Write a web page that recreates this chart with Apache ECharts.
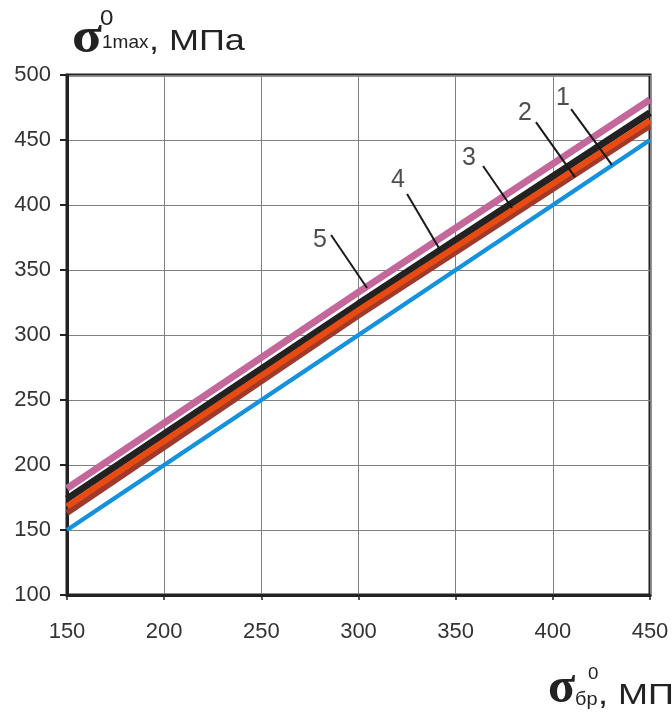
<!DOCTYPE html>
<html>
<head>
<meta charset="utf-8">
<script src="https://cdn.jsdelivr.net/npm/echarts@6/dist/echarts.min.js"></script>
<style>
  html, body { margin: 0; padding: 0; background: #fff; }
  #chart { width: 672px; height: 722px; }
</style>
</head>
<body>
<div id="chart"></div>
<script>
// σ_бр values (x) at which each curve is given
const xValues = [150, 300, 450];

// σ_1max values for curves 1..5
const curve1 = [150, 300, 450];
const curve2 = [163, 315, 461];
const curve3 = [168, 319, 465];
const curve4 = [174, 324, 471];
const curve5 = [182, 333, 481];

// Axis ticks
const xTicks = [150, 200, 250, 300, 350, 400, 450];
const yTicks = [100, 150, 200, 250, 300, 350, 400, 450, 500];

// Curve labels: text, anchor of the number, leader start, leader end (data units)
const curveTags = ['1', '2', '3', '4', '5'];
const tagAnchors = [[405.2, 482.3], [385.7, 470.8], [356.9, 436.2], [320.3, 419.2], [280.2, 373.1]];
const leaderStarts = [[409.4, 473.8], [391.3, 463.8], [364.1, 430.0], [325.0, 408.5], [285.9, 376.9]];
const leaderEnds = [[430.4, 430.8], [411.4, 421.5], [379.0, 397.7], [342.0, 365.4], [304.4, 336.2]];

const pairs = ys => xValues.map((x, i) => [x, ys[i]]);
const font = 'Liberation Sans, Arial, sans-serif';
const serif = 'Liberation Serif, DejaVu Serif, serif';
const ink = '#222';

const lineSeries = (data, color, width, z) => ({
  type: 'line', data: pairs(data), showSymbol: false, symbol: 'none',
  lineStyle: { color, width, cap: 'butt' }, z, silent: true, clip: true
});

// a piece of an axis title, placed by its left-middle point
const titlePart = (text, x, y, size, opts = {}) => ({
  type: 'text', x, y, z: 10, scaleX: opts.sx || 1, silent: true,
  style: {
    text, x: 0, y: 0, align: 'left', verticalAlign: 'middle',
    fontSize: size, fontFamily: opts.family || font,
    fontWeight: opts.bold ? 'bold' : 'normal', fill: ink
  }
});

const chart = echarts.init(document.getElementById('chart'));
chart.setOption({
  animation: false,
  backgroundColor: '#fff',
  grid: {
    left: 67, top: 75, right: 22, bottom: 127,
    show: true, borderColor: ink, borderWidth: 3
  },
  xAxis: {
    type: 'value', min: xTicks[0], max: xTicks[xTicks.length - 1], interval: 50,
    axisLine: { show: true, lineStyle: { color: ink, width: 3 } },
    axisTick: { show: true, inside: false, length: 5, lineStyle: { color: ink, width: 1.5 } },
    splitLine: { show: true, lineStyle: { color: '#808080', width: 1 } },
    axisLabel: { color: '#333', fontSize: 22, fontFamily: font, margin: 26 }
  },
  yAxis: {
    type: 'value', min: yTicks[0], max: yTicks[yTicks.length - 1], interval: 50,
    axisLine: { show: true, lineStyle: { color: ink, width: 3 } },
    axisTick: { show: true, inside: false, length: 7, lineStyle: { color: ink, width: 2 } },
    splitLine: { show: true, lineStyle: { color: '#808080', width: 1 } },
    axisLabel: { color: '#333', fontSize: 22, fontFamily: font, margin: 16 }
  },
  series: [
    lineSeries(curve5, '#C4679B', 7, 2),
    lineSeries(curve4, '#222222', 7, 3),
    lineSeries(curve2, '#9E3A2C', 6, 4),
    lineSeries(curve3, '#E84A12', 6, 5),
    lineSeries(curve1, '#1592DE', 4.5, 6),
    // leader lines from the numbers to the curves
    ...curveTags.map((t, i) => ({
      type: 'line', data: [leaderStarts[i], leaderEnds[i]], showSymbol: false, symbol: 'none',
      lineStyle: { color: '#1a1a1a', width: 2 }, z: 8, silent: true
    })),
    {
      type: 'scatter', symbolSize: 0, z: 9, silent: true,
      data: tagAnchors.map((p, i) => ({ value: p, name: curveTags[i] })),
      label: {
        show: true, position: 'inside', formatter: p => p.name,
        color: ink, fontSize: 25, fontFamily: font
      }
    }
  ],
  graphic: [
    // y axis title: σ⁰₁max, МПа
    titlePart('σ', 72, 39, 50, { family: serif, bold: true, sx: 1.1 }),
    titlePart('0', 100, 19, 22, { sx: 1.1 }),
    titlePart('1max', 102, 43, 19, { sx: 1.0 }),
    titlePart(', МПа', 149, 42, 30, { sx: 1.2 }),
    // x axis title: σ⁰бр, МП
    titlePart('σ', 548, 689, 50, { family: serif, bold: true, sx: 1.0 }),
    titlePart('0', 588, 674, 17, { sx: 1.1 }),
    titlePart('бр', 575, 700, 19, { sx: 1.05 }),
    titlePart(', МП', 598, 696, 30, { sx: 1.2 })
  ]
});
</script>
</body>
</html>
